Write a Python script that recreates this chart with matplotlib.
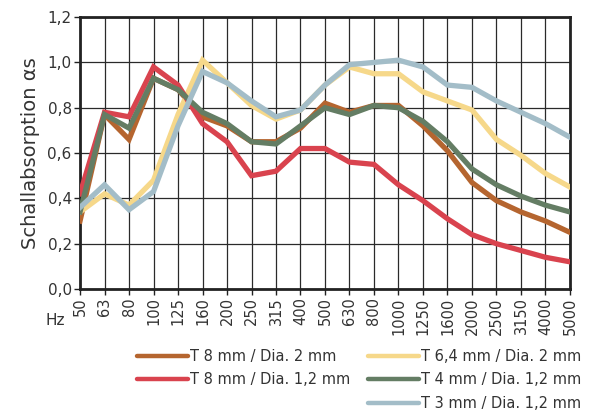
import matplotlib
matplotlib.use("Agg")
import matplotlib.pyplot as plt
from matplotlib.lines import Line2D

# Frequenzbaender (Terz)
freqs = ["50", "63", "80", "100", "125", "160", "200", "250", "315", "400", "500",
         "630", "800", "1000", "1250", "1600", "2000", "2500", "3150", "4000", "5000"]

# Schallabsorptionsgrad je Variante
t8_d2 = [0.30, 0.77, 0.66, 0.93, 0.88, 0.76, 0.72, 0.65, 0.65, 0.71, 0.82,
         0.78, 0.81, 0.81, 0.72, 0.61, 0.47, 0.39, 0.34, 0.30, 0.25]
t64_d2 = [0.34, 0.42, 0.37, 0.48, 0.77, 1.01, 0.91, 0.81, 0.75, 0.79, 0.90,
          0.98, 0.95, 0.95, 0.87, 0.83, 0.79, 0.66, 0.59, 0.51, 0.45]
t8_d12 = [0.42, 0.78, 0.76, 0.98, 0.90, 0.73, 0.65, 0.50, 0.52, 0.62, 0.62,
          0.56, 0.55, 0.46, 0.39, 0.31, 0.24, 0.20, 0.17, 0.14, 0.12]
t4_d12 = [0.34, 0.77, 0.71, 0.93, 0.88, 0.78, 0.73, 0.65, 0.64, 0.72, 0.80,
          0.77, 0.81, 0.80, 0.74, 0.65, 0.53, 0.46, 0.41, 0.37, 0.34]
t3_d12 = [0.36, 0.46, 0.35, 0.43, 0.72, 0.96, 0.91, 0.83, 0.76, 0.79, 0.90,
          0.99, 1.00, 1.01, 0.98, 0.90, 0.89, 0.83, 0.78, 0.73, 0.67]

labels = ["T 8 mm / Dia. 2 mm", "T 6,4 mm / Dia. 2 mm", "T 8 mm / Dia. 1,2 mm",
          "T 4 mm / Dia. 1,2 mm", "T 3 mm / Dia. 1,2 mm"]
colors = ["#B5652F", "#F6D88A", "#D9434E", "#647D64", "#A3BDC8"]

plt.rcParams['font.family'] = ['DejaVu Sans']

fig = plt.figure(figsize=(5.91, 4.12), dpi=100)
ax = fig.add_axes([0.1354, 0.2985, 0.829, 0.660])

x = list(range(len(freqs)))
series = [t8_d2, t64_d2, t8_d12, t4_d12, t3_d12]
lines = []
for vals, col, lab in zip(series, colors, labels):
    ln, = ax.plot(x, vals, color=col, lw=3.8, label=lab, solid_joinstyle='miter', zorder=3)
    lines.append(ln)

ax.set_xlim(0, len(freqs) - 1)
ax.set_ylim(0, 1.2)
ax.set_xticks(x)
ax.set_xticklabels(freqs, rotation=90, fontsize=10.5, color="#333333")
ax.set_yticks([0, 0.2, 0.4, 0.6, 0.8, 1.0, 1.2])
ax.set_yticklabels(["0,0", "0,2", "0,4", "0,6", "0,8", "1,0", "1,2"], fontsize=11, color="#333333")
ax.grid(True, color="#2a2a2a", lw=0.9, zorder=1)
ax.tick_params(length=4, width=1, color="#222222", pad=2)
for s in ax.spines.values():
    s.set_linewidth(2)
    s.set_color("#222222")
ax.set_ylabel("Schallabsorption αs", fontsize=14, color="#333333", labelpad=5)
fig.text(0.093, 0.222, "Hz", fontsize=11, color="#333333", ha="center", va="center")

# Legende: linke Spalte 2 Eintraege, rechte Spalte 3
blank = Line2D([], [], color="none")
handles = [lines[0], lines[2], blank, lines[1], lines[3], lines[4]]
leg_labels = [labels[0], labels[2], "", labels[1], labels[3], labels[4]]
leg = fig.legend(handles, leg_labels, loc="lower left", bbox_to_anchor=(0.21, -0.03),
                 ncol=2, frameon=False, fontsize=10.5, handlelength=3.5, handletextpad=0.15,
                 columnspacing=1.2, labelspacing=0.6, labelcolor="#333333")
for hl in leg.get_lines():
    hl.set_linewidth(3.2)
    hl.set_solid_capstyle("round")

fig.savefig("out.png", dpi=100)
